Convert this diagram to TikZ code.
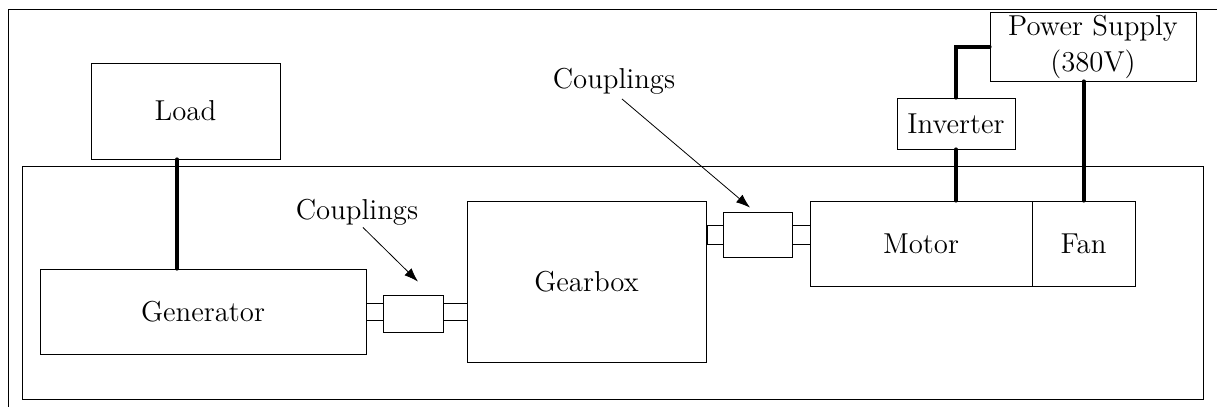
\documentclass[tikz,border=0pt]{standalone}
\usetikzlibrary{calc, arrows.meta}
\begin{document}
\begin{tikzpicture}[x=0.5pt, y=-0.5pt,
  part/.style={draw, font=\Large, inner sep=0pt},
  link/.style={line width=2pt, line cap=round},
  callout/.style={-{Latex[length=7pt, width=5pt]}},
]
  \useasboundingbox (0,0) rectangle (1217,407);
  % frame
  \draw (8,407) -- (8,9) -- (1217,9);
  % bed plate
  \node[part, minimum width=590.5pt, minimum height=116.5pt] (bed) at (612.5,282.5) {};
  \node[part, minimum width=94.5pt, minimum height=48pt] (load) at (185.5,111) {Load};
  \node[part, minimum width=163pt, minimum height=42.5pt] (gen) at (203,311.5) {Generator};
  \node[part, minimum width=119.5pt, minimum height=80.5pt] (gear) at (586.5,281.5) {Gearbox};
  \node[part, minimum width=111pt, minimum height=42.5pt] (motor) at (921,243.5) {Motor};
  \node[part, minimum width=51.5pt, minimum height=42.5pt] (fan) at (1083.5,243.5) {Fan};
  \node[part, minimum width=59pt, minimum height=25.5pt] (inv) at (956,123.5) {Inverter};
  \node[part, minimum width=103pt, minimum height=34.5pt, align=center] (psu) at (1093,46.5) {Power Supply\\(380V)};
  % couplings
  \node[part, minimum width=8.5pt, minimum height=8.5pt] (sh1a) at (374.5,311.5) {};
  \node[part, minimum width=30pt, minimum height=18.5pt] (cp1) at (413,313.5) {};
  \node[part, minimum width=12pt, minimum height=8.5pt] (sh1b) at (455,311.5) {};
  \node[part, minimum width=8pt, minimum height=9.5pt] (sh2a) at (715,234.5) {};
  \node[part, minimum width=34.5pt, minimum height=22.5pt] (cp2) at (757.5,234.5) {};
  \node[part, minimum width=9pt, minimum height=9.5pt] (sh2b) at (801,234.5) {};
  \node[font=\Large, inner sep=0pt] (lbl1) at (357,212) {Couplings};
  \node[font=\Large, inner sep=0pt] (lbl2) at (614,81.5) {Couplings};
  \draw[callout] ([xshift=3pt, yshift=-1pt]lbl1.south) -- ([xshift=2.5pt, yshift=6.5pt]cp1.north);
  \draw[callout] ([xshift=4pt, yshift=-2pt]lbl2.south) -- ([xshift=-3.75pt, yshift=2pt]cp2.north);
  % cables
  \coordinate (lshaft) at ([xshift=-4.25pt]load.south);
  \draw[link] (lshaft) -- (lshaft |- gen.north);
  \draw[link] (inv.south) -- (inv.south |- motor.north);
  \draw[link] (fan.north) -- (fan.north |- psu.south);
  \draw[link] (psu.west) -| (inv.north);
\end{tikzpicture}
\end{document}
